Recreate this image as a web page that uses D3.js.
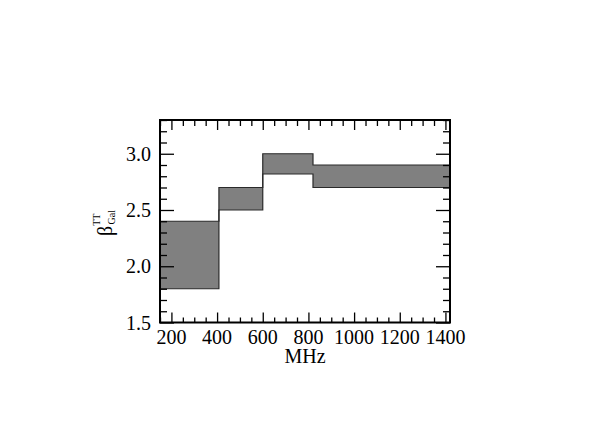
<!DOCTYPE html>
<html><head><meta charset="utf-8">
<script src="https://cdn.jsdelivr.net/npm/d3@7"></script>
<style>body{margin:0;background:#fff}svg{display:block}</style>
</head><body>
<svg id="c" width="610" height="445"></svg>
<script>
const bandStart = [150, 408, 600, 820];
const bandEnd   = [408, 600, 820, 1420];
const betaLow   = [1.80, 2.50, 2.82, 2.70];
const betaHigh  = [2.40, 2.70, 3.00, 2.90];
const xMajorTicks = [200, 400, 600, 800, 1000, 1200, 1400];
const yMajorTicks = [1.5, 2.0, 2.5, 3.0];
const xLabel = "MHz";

const svg = d3.select("#c");
const L = 160, R = 450, T = 120, B = 322.5;
const x = d3.scaleLinear().domain([150, 1420]).range([L, R]);
const y = d3.scaleLinear().domain([1.5, 3.3]).range([B, T]);

const xMinor = d3.range(150, 1420 + 1, 50).filter(v => !xMajorTicks.includes(v));
const yMinor = d3.range(15, 34).map(v => v / 10).filter(v => !yMajorTicks.includes(v));

// step band: points at each band start plus final end
const pts = bandStart.map((s, i) => ({f: s, lo: betaLow[i], hi: betaHigh[i]}));
const last = bandStart.length - 1;
pts.push({f: bandEnd[last], lo: betaLow[last], hi: betaHigh[last]});

svg.append("path").datum(pts)
  .attr("d", d3.area().curve(d3.curveStepAfter).x(d => x(d.f)).y0(d => y(d.lo)).y1(d => y(d.hi)))
  .attr("fill", "#808080").attr("stroke", "none");
const stepLine = key => d3.line().curve(d3.curveStepAfter).x(d => x(d.f)).y(d => y(d[key]));
["lo", "hi"].forEach(k => {
  svg.append("path").datum(pts).attr("d", stepLine(k))
    .attr("fill", "none").attr("stroke", "#2a2a2a").attr("stroke-width", 1.2);
});

const font = "'Liberation Serif','Times New Roman',serif";
function tickG(axis, tr, len, vals) {
  const g = svg.append("g").attr("transform", tr)
    .call(axis.tickValues(vals).tickSize(len).tickSizeOuter(0).tickFormat(""));
  g.select(".domain").remove();
  g.selectAll("line").attr("stroke", "#000").attr("stroke-width", 1.3);
  return g;
}
tickG(d3.axisTop(x), `translate(0,${B})`, 10, xMajorTicks);
tickG(d3.axisTop(x), `translate(0,${B})`, 5, xMinor);
tickG(d3.axisBottom(x), `translate(0,${T})`, 10, xMajorTicks);
tickG(d3.axisBottom(x), `translate(0,${T})`, 6, xMinor);
tickG(d3.axisRight(y), `translate(${L},0)`, 14, yMajorTicks);
tickG(d3.axisRight(y), `translate(${L},0)`, 7, yMinor);
tickG(d3.axisLeft(y), `translate(${R},0)`, 14, yMajorTicks);
tickG(d3.axisLeft(y), `translate(${R},0)`, 7, yMinor);

svg.append("rect").attr("x", L).attr("y", T).attr("width", R - L).attr("height", B - T)
  .attr("fill", "none").attr("stroke", "#000").attr("stroke-width", 2);

svg.append("g").selectAll("text").data(xMajorTicks).join("text")
  .attr("x", d => x(d)).attr("y", 344).attr("text-anchor", "middle")
  .attr("font-family", font).attr("font-size", 20).text(d => d);
svg.append("g").selectAll("text").data(yMajorTicks).join("text")
  .attr("x", 151).attr("y", d => y(d) + 7).attr("text-anchor", "end")
  .attr("font-family", font).attr("font-size", 20).text(d => d.toFixed(1));

svg.append("text").attr("x", (L + R) / 2).attr("y", 363).attr("text-anchor", "middle")
  .attr("font-family", font).attr("font-size", 20).text(xLabel);

const yt = svg.append("text").attr("transform", "translate(112,223) rotate(-90)")
  .attr("text-anchor", "middle").attr("font-family", font).attr("font-size", 20);
yt.append("tspan").text("β");
yt.append("tspan").attr("font-size", 10).attr("dy", -12).text("TT");
yt.append("tspan").attr("font-size", 10).attr("dx", -11).attr("dy", 15).text("Gal");
</script>
</body></html>
